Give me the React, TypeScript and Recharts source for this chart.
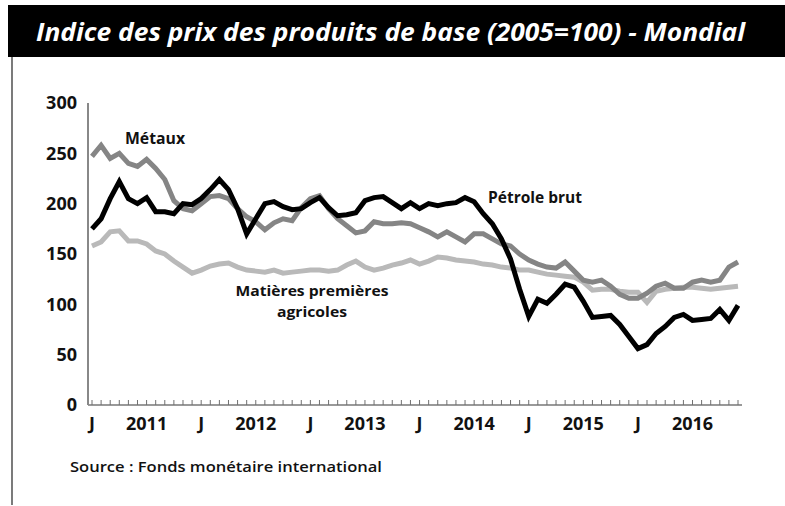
import React from 'react';
import { LineChart, Line, XAxis, YAxis } from 'recharts';

const years = [2011, 2012, 2013, 2014, 2015, 2016];
const monthNums = ['01', '02', '03', '04', '05', '06', '07', '08', '09', '10', '11', '12'];
const months = years.flatMap((y) => monthNums.map((m) => `${y}-${m}`));

const petrole = [
  175, 185, 205, 222, 205, 200, 206, 192, 192, 190,
  200, 199, 205, 214, 224, 214, 195, 170, 185, 200,
  202, 197, 194, 195, 201, 206, 196, 188, 189, 191,
  203, 206, 207, 201, 195, 201, 195, 200, 198, 200,
  201, 206, 202, 190, 180, 165, 145, 115, 88, 105,
  101, 110, 120, 117, 103, 87, 88, 89, 80, 68,
  56, 60, 71, 78, 87, 90, 84, 85, 86, 95,
  84, 99,
];
const metaux = [
  247, 258, 245, 250, 240, 237, 244, 235, 224, 203,
  195, 193, 200, 207, 208, 205, 195, 187, 182, 174,
  181, 185, 183, 196, 205, 208, 195, 185, 178, 171,
  173, 182, 180, 180, 181, 180, 176, 172, 167, 172,
  167, 162, 170, 170, 165, 160, 158, 150, 144, 140,
  137, 136, 142, 133, 124, 122, 124, 118, 110, 106,
  106, 111, 118, 121, 116, 116, 122, 124, 122, 124,
  137, 142,
];
const agricoles = [
  158, 162, 172, 173, 163, 163, 160, 153, 150, 143,
  137, 131, 134, 138, 140, 141, 137, 134, 133, 132,
  134, 131, 132, 133, 134, 134, 133, 134, 139, 143,
  137, 134, 136, 139, 141, 144, 140, 143, 147, 146,
  144, 143, 142, 140, 139, 137, 136, 134, 134, 132,
  130, 129, 128, 127, 122, 114, 115, 115, 113, 112,
  112, 102, 113, 115, 116, 117, 117, 116, 115, 116,
  117, 118,
];

const yTicks = [0, 50, 100, 150, 200, 250, 300];
const xTickLabels: Record<string, string> = {
  '2011-01': 'J', '2011-07': '2011',
  '2012-01': 'J', '2012-07': '2012',
  '2013-01': 'J', '2013-07': '2013',
  '2014-01': 'J', '2014-07': '2014',
  '2015-01': 'J', '2015-07': '2015',
  '2016-01': 'J', '2016-07': '2016',
};

const data = months.map((m, i) => ({
  month: m,
  petrole: petrole[i],
  metaux: metaux[i],
  agricoles: agricoles[i],
}));

const FONT = '"Open Sans", "DejaVu Sans", sans-serif';

const MonthTick = (props: any) => {
  const { x, y, payload } = props;
  const label = xTickLabels[payload.value];
  return (
    <g>
      <line x1={x} y1={y} x2={x} y2={y - 5} stroke="#707070" strokeWidth={1} />
      {label ? (
        <text x={x} y={y + 25} textAnchor="middle" fontFamily={FONT} fontWeight={700} fontSize={18} fill="#111">
          {label}
        </text>
      ) : null}
    </g>
  );
};

export default function App() {
  return (
    <div style={{ position: 'absolute', left: 0, top: 0, width: 785, height: 506, background: '#fff', overflow: 'hidden' }}>
      <div style={{ position: 'absolute', left: 0, top: 0 }}>
        <LineChart
          width={785}
          height={506}
          data={data}
          margin={{ top: 103, right: 43, left: 28, bottom: 71 }}
        >
          <XAxis
            dataKey="month"
            height={30}
            interval={0}
            tickLine={false}
            tickSize={0}
            tickMargin={0}
            tick={<MonthTick />}
            padding={{ left: 4, right: 4 }}
            axisLine={{ stroke: '#777', strokeWidth: 1.5 }}
          />
          <YAxis
            width={60}
            domain={[0, 300]}
            ticks={yTicks}
            tickLine={false}
            tickSize={0}
            tickMargin={11}
            axisLine={{ stroke: '#888', strokeWidth: 2 }}
            tick={{ fontFamily: FONT, fontWeight: 700, fontSize: 18, fill: '#111' }}
          />
          <Line type="linear" dataKey="agricoles" stroke="#b9b9b9" strokeWidth={5} dot={false} isAnimationActive={false} />
          <Line type="linear" dataKey="metaux" stroke="#858585" strokeWidth={5} dot={false} isAnimationActive={false} />
          <Line type="linear" dataKey="petrole" stroke="#000" strokeWidth={5} dot={false} isAnimationActive={false} />
        </LineChart>
      </div>
      <svg width={785} height={506} style={{ position: 'absolute', left: 0, top: 0, pointerEvents: 'none' }}>
        <rect x={8} y={5} width={777} height={52} fill="#000" />
        <text x={36} y={41} fill="#fff" fontFamily={FONT} fontWeight={700} fontStyle="italic" fontSize={25} textLength={709} lengthAdjust="spacingAndGlyphs">
          Indice des prix des produits de base (2005=100) - Mondial
        </text>
        <line x1={12} y1={57} x2={12} y2={505} stroke="#222" strokeWidth={1.2} />
        <text x={125} y={144} fontFamily={FONT} fontWeight={700} fontSize={16} fill="#111" textLength={60} lengthAdjust="spacingAndGlyphs">Métaux</text>
        <text x={488} y={203} fontFamily={FONT} fontWeight={700} fontSize={16} fill="#111" textLength={94} lengthAdjust="spacingAndGlyphs">Pétrole brut</text>
        <text x={312} y={296} textAnchor="middle" fontFamily={FONT} fontWeight={700} fontSize={15} fill="#111" textLength={153} lengthAdjust="spacingAndGlyphs">Matières premières</text>
        <text x={312} y={317} textAnchor="middle" fontFamily={FONT} fontWeight={700} fontSize={15} fill="#111" textLength={70} lengthAdjust="spacingAndGlyphs">agricoles</text>
        <text x={70} y={472} fontFamily={FONT} fontWeight={600} fontSize={15} fill="#111" textLength={312} lengthAdjust="spacingAndGlyphs">Source : Fonds monétaire international</text>
      </svg>
    </div>
  );
}
